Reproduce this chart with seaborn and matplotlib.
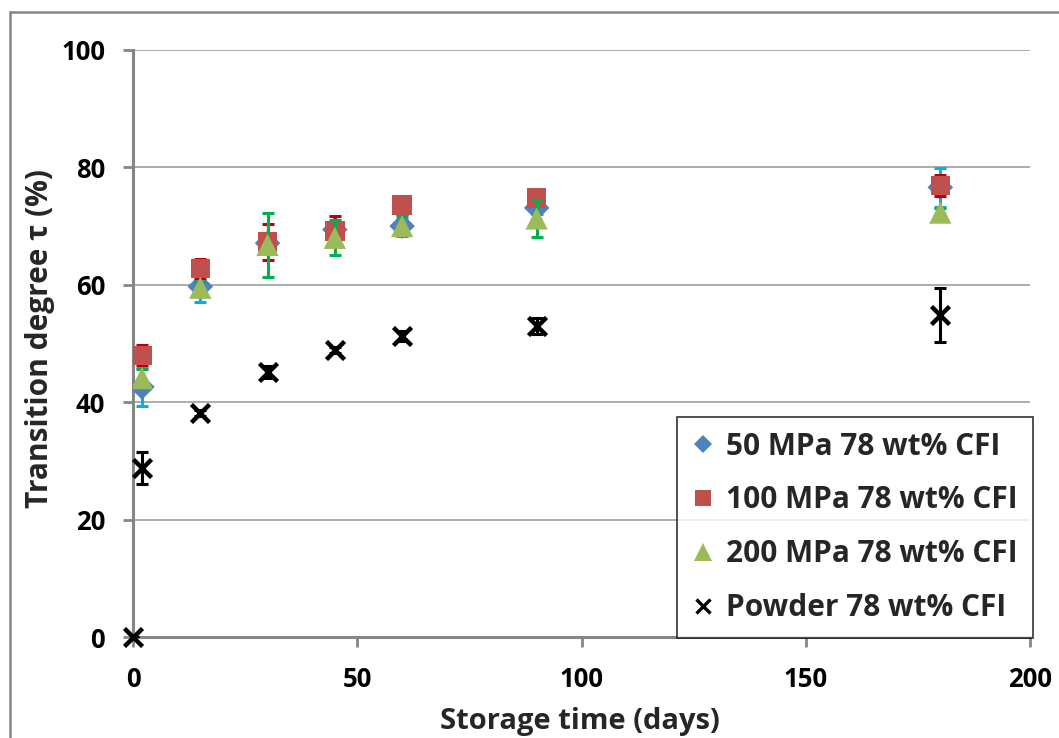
import matplotlib
matplotlib.use("Agg")
import matplotlib.pyplot as plt
import seaborn as sns
import pandas as pd
from matplotlib.lines import Line2D

# ---- data ----
days = [2, 15, 30, 45, 60, 90, 180]
mpa50 = [42.6, 59.7, 67.1, 69.4, 70.0, 73.1, 76.6]
mpa50_err = [3.2, 2.6, 1.5, 1.5, 1.2, 1.0, 3.3]
mpa100 = [48.0, 62.8, 67.3, 69.2, 73.6, 74.8, 76.9]
mpa100_err = [1.7, 1.6, 3.1, 2.6, 1.6, 0.5, 1.8]
mpa200 = [44.1, 59.5, 66.8, 68.0, 70.0, 71.3, 72.3]
mpa200_err = [1.5, 1.0, 5.5, 3.0, 1.7, 3.2, 0.8]
powder_days = [0, 2, 15, 30, 45, 60, 90, 180]
powder = [0.0, 28.8, 38.1, 45.2, 48.9, 51.3, 53.0, 54.8]
powder_err = [0.0, 2.8, 0.5, 1.0, 0.5, 0.8, 1.4, 4.6]

labels = ["50 MPa 78 wt% CFI", "100 MPa 78 wt% CFI",
          "200 MPa 78 wt% CFI", "Powder 78 wt% CFI"]

sns.set_theme(style="white")
FAM = ['Open Sans', 'DejaVu Sans']
plt.rcParams['font.family'] = FAM
plt.rcParams['font.weight'] = 'bold'

fig = plt.figure(figsize=(10.59, 7.38), dpi=100)
ax = fig.add_axes([133 / 1059, 1 - 637 / 738, (1030 - 133) / 1059, (637 - 50) / 738])

series = [
    (days, mpa50, mpa50_err, 'D', '#4F81BD', '#00B0F0', 13, labels[0]),
    (days, mpa100, mpa100_err, 's', '#C0504D', '#C00000', 14, labels[1]),
    (days, mpa200, mpa200_err, '^', '#9BBB59', '#00B050', 16, labels[2]),
    (powder_days, powder, powder_err, 'x', 'black', 'black', 13, labels[3]),
]

for i, (x, y, e, m, col, ecol, ms, lab) in enumerate(series):
    z = 3 + 2 * i
    ax.errorbar(x, y, yerr=e, fmt='none', ecolor=ecol, elinewidth=2.2,
                capsize=4, capthick=2.2, zorder=z)
    df = pd.DataFrame({"x": x, "y": y})
    if m == 'x':
        sns.scatterplot(data=df, x="x", y="y", marker='x', s=ms ** 2,
                        color=col, linewidth=3.2, ax=ax, zorder=z + 1, clip_on=False)
    else:
        sns.scatterplot(data=df, x="x", y="y", marker=m, s=ms ** 2,
                        color=col, edgecolor='none', linewidth=0, ax=ax, zorder=z + 1)

ax.set_xlim(0, 200)
ax.set_ylim(0, 100)
ax.set_xticks([0, 50, 100, 150, 200])
ax.set_yticks([0, 20, 40, 60, 80, 100])
ax.yaxis.grid(True, color='#A6A6A6', linewidth=1.3)
ax.xaxis.grid(False)
ax.set_axisbelow(True)

for s in ['top', 'right']:
    ax.spines[s].set_visible(False)
for s in ['left', 'bottom']:
    ax.spines[s].set_color('#868686')
    ax.spines[s].set_linewidth(2.2)

ax.tick_params(axis='both', which='major', direction='out', length=7,
               width=2, color='#868686', labelsize=18.5, labelcolor='black',
               left=True, bottom=True)
ax.tick_params(axis='x', pad=14)
ax.tick_params(axis='y', pad=13)
for t in ax.get_xticklabels() + ax.get_yticklabels():
    t.set_fontweight('bold')

ax.set_xlabel("Storage time (days)", fontsize=21, fontweight='bold')
ax.set_ylabel("Transition degree τ (%)", fontsize=21.5, fontweight='bold', family=FAM)
ax.xaxis.set_label_coords((580 - 133) / 897, (637 - 722) / 587)
ax.yaxis.set_label_coords((40 - 133) / 897, (637 - 338) / 587)
ax.xaxis.label.set_verticalalignment('center')
ax.yaxis.label.set_verticalalignment('center')

handles = [
    Line2D([], [], marker='D', color='#4F81BD', linestyle='none', markersize=9, markeredgewidth=0),
    Line2D([], [], marker='s', color='#C0504D', linestyle='none', markersize=12, markeredgewidth=0),
    Line2D([], [], marker='^', color='#9BBB59', linestyle='none', markersize=13, markeredgewidth=0),
    Line2D([], [], marker='x', color='black', linestyle='none', markersize=10, markeredgewidth=2.4),
]
leg = ax.legend(handles, labels, loc='lower right', bbox_to_anchor=(1.003, -0.002),
                frameon=True, fancybox=False, handlelength=0.75,
                handletextpad=0.4, labelspacing=0.8, borderpad=0.5,
                borderaxespad=0.0,
                prop={'weight': 'bold', 'size': 21.5, 'family': FAM})
leg.get_frame().set_edgecolor('black')
leg.get_frame().set_linewidth(1.2)
leg.set_zorder(20)

# outer chart-area frame (partially cropped in the reference)
x0 = 10 / 1059
y0 = 1 - 12 / 738
fig.add_artist(Line2D([x0, x0], [-0.05, y0], transform=fig.transFigure,
                      color='#868686', linewidth=1.8))
fig.add_artist(Line2D([x0, 1.05], [y0, y0], transform=fig.transFigure,
                      color='#868686', linewidth=1.8))

fig.savefig("out.png", dpi=100)
